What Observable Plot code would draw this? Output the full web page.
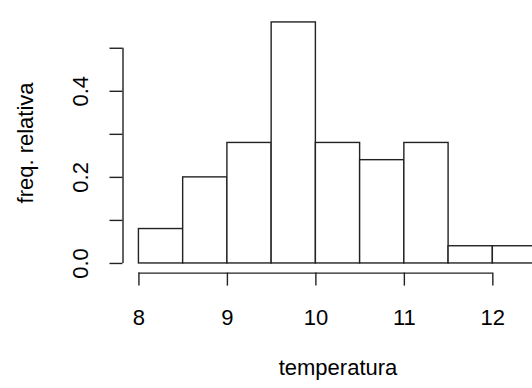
<!DOCTYPE html>
<html>
<head>
<meta charset="utf-8">
<script src="https://cdn.jsdelivr.net/npm/d3@7"></script>
<script src="https://cdn.jsdelivr.net/npm/@observablehq/plot@0.6"></script>
<style>
  html, body { margin: 0; padding: 0; background: white; overflow: hidden; }
  #chart { width: 532px; height: 388px; }
</style>
</head>
<body>
<div id="chart"></div>
<script>
// Histogram bins (temperatura) and relative frequencies
const binStart = [8, 8.5, 9, 9.5, 10, 10.5, 11, 11.5, 12];
const binEnd   = [8.5, 9, 9.5, 10, 10.5, 11, 11.5, 12, 12.5];
const relFreq  = [0.08, 0.20, 0.28, 0.56, 0.28, 0.24, 0.28, 0.04, 0.04];

const xTicks = [8, 9, 10, 11, 12];
const yTicks = [0, 0.1, 0.2, 0.3, 0.4, 0.5];
const yLabels = [0, 0.2, 0.4];

const xTitle = "temperatura";
const yTitle = "freq. relativa";

const bins = binStart.map((s, i) => ({x1: s, x2: binEnd[i], freq: relFreq[i]}));

// R-style usr extents (4% padding)
const xlim = [d3.min(binStart), d3.max(binEnd)];
const ylim = [0, d3.max(relFreq)];
const xpad = (xlim[1] - xlim[0]) * 0.04;
const ypad = (ylim[1] - ylim[0]) * 0.04;
const xUsr = [xlim[0] - xpad, xlim[1] + xpad];
const yUsr = [ylim[0] - ypad, ylim[1] + ypad];

const W = 532, H = 388;
const mLeft = 122.5, mTop = 12.3, mBottom = 115.4, mRight = -20.5;
const font = "Liberation Sans, Arial, Helvetica, sans-serif";
const fs = 22;
const ink = "#222";
const lw = 1.4;

const chart = Plot.plot({
  width: W,
  height: H,
  marginLeft: mLeft,
  marginRight: mRight,
  marginTop: mTop,
  marginBottom: mBottom,
  style: {fontFamily: font, fontSize: fs + "px", color: "black", background: "white"},
  x: {domain: xUsr, range: [mLeft, W - mRight]},
  y: {domain: yUsr},
  marks: [
    Plot.rect(bins, {x1: "x1", x2: "x2", y1: 0, y2: "freq", fill: "white", stroke: ink, strokeWidth: lw}),
    // x axis
    Plot.ruleY([yUsr[0]], {x1: d3.min(xTicks), x2: d3.max(xTicks), stroke: ink, strokeWidth: lw}),
    Plot.axisX({ticks: xTicks, tickSize: 13, tickPadding: 23, tickFormat: d => String(d), fontSize: fs, label: null, stroke: ink, strokeWidth: lw, fill: "black"}),
    Plot.text([xTitle], {x: (xUsr[0] + xUsr[1]) / 2, frameAnchor: "bottom", dy: 102, text: d => d, fontSize: fs, fill: "black"}),
    // y axis
    Plot.ruleX([xUsr[0]], {y1: d3.min(yTicks), y2: d3.max(yTicks), stroke: ink, strokeWidth: lw}),
    Plot.axisY({ticks: yTicks, tickSize: 13, tickFormat: () => "", label: null, stroke: ink, strokeWidth: lw}),
    Plot.text(yLabels, {y: d => d, text: d => d3.format(".1f")(d), frameAnchor: "left", dx: -42, rotate: -90, textAnchor: "middle", fontSize: fs, fill: "black"}),
    Plot.text([yTitle], {frameAnchor: "left", dx: -97, rotate: -90, text: d => d, textAnchor: "middle", fontSize: fs, fill: "black"})
  ]
});
document.getElementById("chart").appendChild(chart);
</script>
</body>
</html>
